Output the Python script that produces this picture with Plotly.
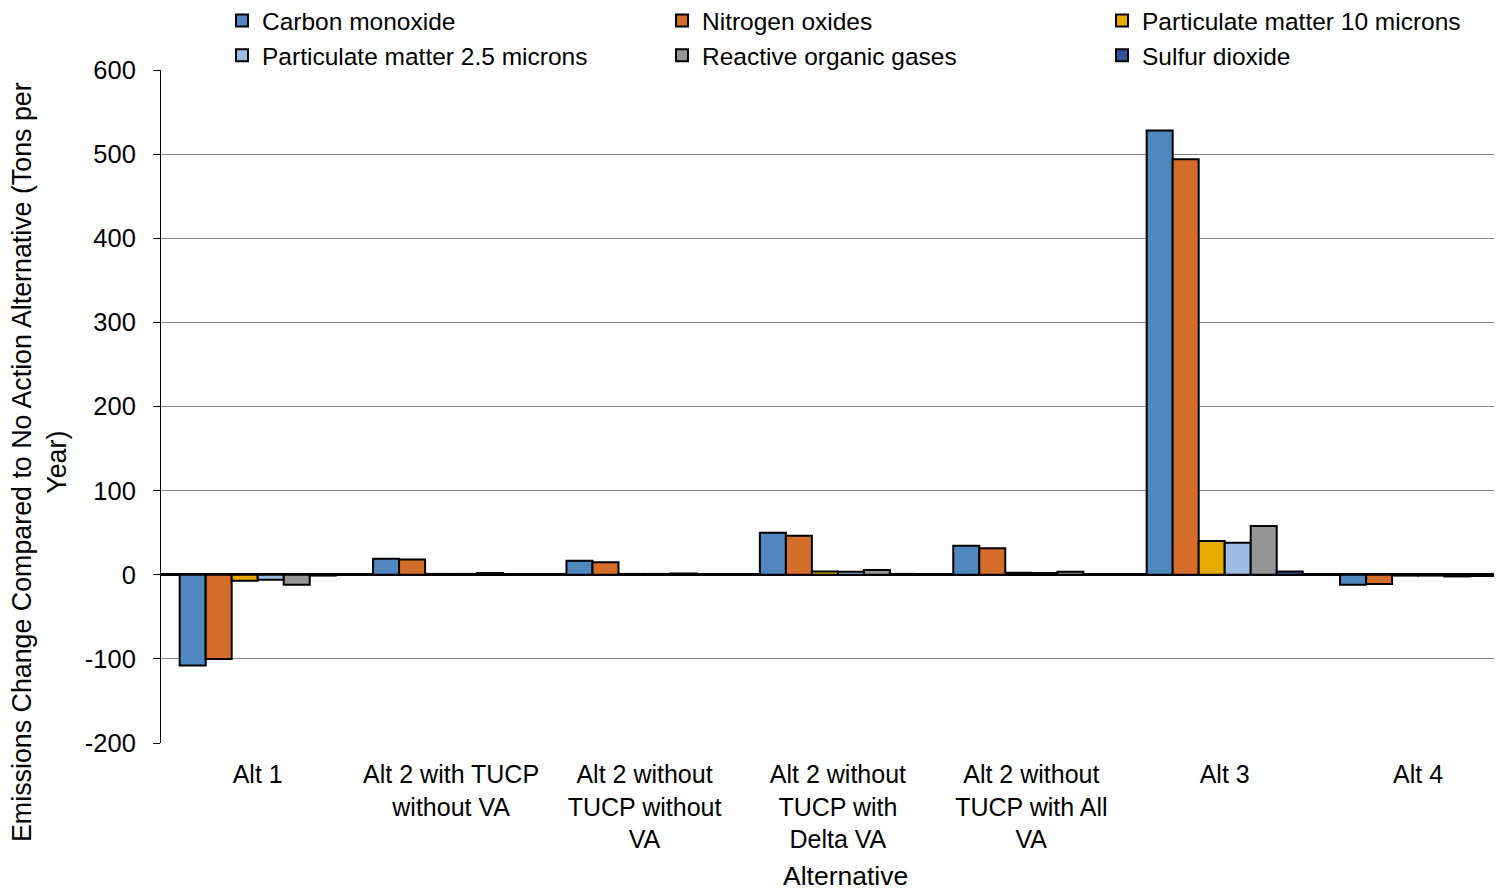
import plotly.graph_objects as go

categories = ["Alt 1", "Alt 2 with TUCP<br>without VA", "Alt 2 without<br>TUCP without<br>VA",
              "Alt 2 without<br>TUCP with<br>Delta VA", "Alt 2 without<br>TUCP with All<br>VA",
              "Alt 3", "Alt 4"]
carbon_monoxide = [-108, 19, 16.5, 50, 34.5, 528, -12]
nitrogen_oxides = [-100, 18, 15, 46.5, 31.5, 494, -11]
pm10 = [-7, 1, 1, 4, 2.5, 40, -1]
pm25 = [-6, 1, 1, 3.5, 2, 38, -1]
rog = [-12, 2, 1.5, 5.5, 3.5, 58, -2]
sulfur_dioxide = [-1, 0.5, 0.5, 1, 0.7, 4, -1.5]
y_tick_vals = [-200, -100, 0, 100, 200, 300, 400, 500, 600]
y_tick_text = ["-200", "-100", "0", "100", "200", "300", "400", "500", "600"]

series = [
    ("Carbon monoxide", carbon_monoxide, "#4F87BE", "legend"),
    ("Nitrogen oxides", nitrogen_oxides, "#D56D2A", "legend2"),
    ("Particulate matter 10 microns", pm10, "#E6AD00", "legend3"),
    ("Particulate matter 2.5 microns", pm25, "#9DBDE3", "legend"),
    ("Reactive organic gases", rog, "#959595", "legend2"),
    ("Sulfur dioxide", sulfur_dioxide, "#2F5597", "legend3"),
]

# figure is drawn with an 8px page offset (body margin), so work in figure coords
W, H = 1494, 882
L, T, PW, PH = 153, 62, 1341, 673
CAT_PX = 193.4  # the original chart's plot area runs past the right edge

fig = go.Figure()
for name, vals, color, lg in series:
    fig.add_trace(go.Bar(name=name, x=categories, y=vals, legend=lg,
                         marker=dict(color=color, line=dict(color="black", width=2))))

font_family = "Liberation Sans, Arial, sans-serif"
leg_common = dict(orientation="v", yanchor="top", xanchor="left", y=1 + 72 / PH,
                  font=dict(size=24.5), traceorder="normal", tracegroupgap=0,
                  bgcolor="rgba(0,0,0,0)", borderwidth=0)
fig.update_layout(
    width=W, height=H,
    margin=dict(l=L, r=W - L - PW, t=T, b=H - T - PH, autoexpand=False),
    paper_bgcolor="white", plot_bgcolor="white",
    font=dict(family=font_family, size=25, color="black"),
    barmode="group", bargap=0.193, bargroupgap=0,
    showlegend=True,
    legend=dict(x=61 / PW, **leg_common),
    legend2=dict(x=501 / PW, **leg_common),
    legend3=dict(x=941 / PW, **leg_common),
    xaxis=dict(showgrid=False, showline=False, ticks="", tickfont=dict(size=25),
               zeroline=False, ticklabelstandoff=14,
               range=[-0.5, -0.5 + PW / CAT_PX]),
    yaxis=dict(range=[-200, 600], tickvals=y_tick_vals, ticktext=y_tick_text,
               showgrid=True, gridcolor="#868686", gridwidth=1,
               showline=True, linecolor="black", linewidth=1, ticks="outside", ticklen=7,
               tickcolor="black", zeroline=True, zerolinecolor="black", zerolinewidth=3,
               tickfont=dict(size=25.5), ticklabelstandoff=12),
    annotations=[
        dict(text="Emissions Change Compared to No Action Alternative (Tons per<br>Year)",
             xref="paper", yref="paper", x=(32 - L) / PW, y=(T + PH - 454) / PH, textangle=-90,
             showarrow=False, font=dict(size=26.8), xanchor="center", yanchor="middle"),
        dict(text="Alternative", xref="paper", yref="paper", x=(837 - L) / PW,
             y=(T + PH - 868) / PH,
             showarrow=False, font=dict(size=26.5), xanchor="center", yanchor="middle"),
    ],
)

fig.write_html("out.html")
